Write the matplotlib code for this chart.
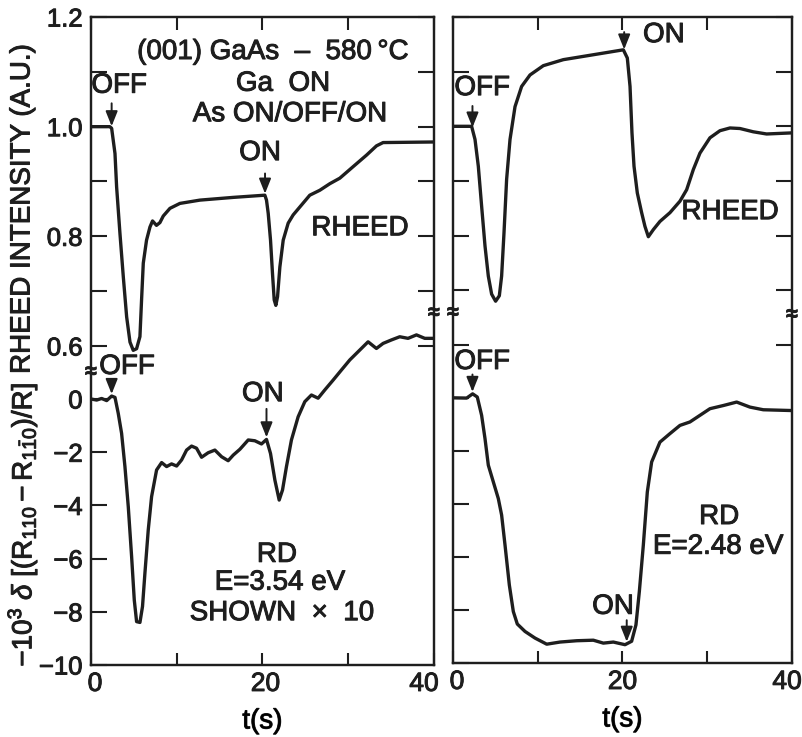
import numpy as np
import matplotlib
matplotlib.use("Agg")
import matplotlib.pyplot as plt
import matplotlib.patheffects as pe
from matplotlib.text import Text
from matplotlib.transforms import ScaledTranslation

# --- Left panel: RHEED intensity (A.U.) and RD at E=3.54 eV (shown x10) ---
t_rheed_a = [0, 2.2, 2.41, 2.80, 2.99, 3.38, 3.77, 4.16, 4.55, 4.93, 5.32, 5.71, 5.90, 6.10,
             6.48, 6.88, 7.18, 7.64, 8.04, 8.43, 9.21, 10.37, 12.7, 16.6, 20.28, 20.47, 20.67,
             20.94, 21.17, 21.37, 21.56, 21.76, 22.03, 22.42, 23.0, 23.58, 24.55, 25.52, 26.69,
             27.86, 29.02, 30.57, 32.13, 33.3, 34.07, 39.7]
rheed_a = [1.0, 1.0, 0.997, 0.951, 0.890, 0.805, 0.726, 0.653, 0.607, 0.592, 0.595, 0.617,
           0.684, 0.751, 0.793, 0.817, 0.828, 0.820, 0.825, 0.837, 0.851, 0.860, 0.866, 0.871,
           0.875, 0.866, 0.842, 0.793, 0.732, 0.684, 0.674, 0.690, 0.744, 0.793, 0.824, 0.839,
           0.857, 0.875, 0.884, 0.896, 0.906, 0.927, 0.948, 0.965, 0.971, 0.972]

t_rd_a = [0, 0.66, 1.24, 1.83, 2.41, 2.80, 3.18, 3.57, 3.96, 4.35, 4.74, 5.05, 5.32, 5.71,
          6.01, 6.29, 6.68, 7.07, 7.65, 8.24, 8.82, 9.4, 9.99, 10.57, 11.15, 11.73, 12.31,
          12.90, 13.67, 14.45, 15.23, 16.0, 16.59, 17.37, 18.34, 19.11, 19.89, 20.47, 20.94,
          21.45, 21.95, 22.34, 22.8, 23.38, 24.16, 24.94, 25.71, 26.49, 27.27, 28.24, 29.21,
          30.19, 31.35, 32.32, 33.29, 34.07, 35.04, 36.01, 36.98, 37.96, 38.93, 39.7]
rd_a = [0, -0.04, 0.02, -0.06, 0.11, 0.06, -0.54, -1.29, -2.54, -4.05, -5.93, -7.56, -8.37,
        -8.4, -7.8, -6.55, -4.92, -3.67, -2.67, -2.39, -2.54, -2.44, -2.52, -2.29, -1.92,
        -1.77, -1.85, -2.19, -2.02, -1.92, -2.17, -2.32, -2.11, -1.89, -1.54, -1.57, -1.69,
        -1.52, -2.05, -3.05, -3.8, -3.42, -2.54, -1.54, -0.67, -0.1, 0.15, 0.03, 0.34, 0.71,
        1.09, 1.47, 1.84, 2.15, 1.90, 2.09, 2.22, 2.34, 2.28, 2.41, 2.28, 2.28]

# --- Right panel: RHEED intensity (A.U.) and RD at E=2.48 eV ---
t_rheed_b = [0, 2.2, 2.6, 2.99, 3.38, 3.78, 4.17, 4.56, 5.03, 5.47, 5.74, 6.02, 6.33, 6.73,
             7.32, 8.1, 9.09, 10.66, 13.02, 16.17, 20.1, 20.57, 20.89, 21.12, 21.36, 21.75,
             22.26, 22.65, 23.05, 23.64, 24.42, 25.6, 26.78, 27.57, 28.36, 29.14, 30.32, 31.5,
             32.68, 33.86, 35.43, 37.0, 40.0]
rheed_b = [1.0, 1.0, 0.976, 0.927, 0.854, 0.781, 0.726, 0.693, 0.680, 0.690, 0.726, 0.805,
           0.903, 0.976, 1.036, 1.073, 1.094, 1.111, 1.122, 1.130, 1.140, 1.125, 1.073, 0.988,
           0.927, 0.878, 0.842, 0.817, 0.798, 0.811, 0.826, 0.842, 0.863, 0.884, 0.921, 0.951,
           0.979, 0.992, 0.997, 0.996, 0.990, 0.986, 0.988]

t_rd_b = [0, 1.61, 2.32, 2.87, 3.38, 3.78, 4.17, 4.76, 5.35, 5.74, 6.14, 6.65, 7.12, 7.59,
          8.5, 9.68, 11.06, 12.63, 14.6, 16.56, 17.74, 18.92, 20.3, 21.08, 21.59, 21.99,
          22.46, 22.93, 23.44, 24.42, 25.6, 26.78, 27.96, 29.14, 30.32, 31.9, 33.47, 35.04,
          36.61, 40.0]
rd_b = [0, -0.01, 0.15, 0.03, -0.66, -1.54, -2.54, -3.17, -3.80, -4.42, -5.55, -7.06, -8.06,
        -8.53, -8.81, -9.06, -9.29, -9.21, -9.16, -9.14, -9.25, -9.21, -9.31, -9.18, -8.56,
        -7.30, -5.55, -3.55, -2.42, -1.67, -1.35, -1.04, -0.91, -0.66, -0.41, -0.29, -0.16,
        -0.35, -0.45, -0.48]

# shutter switching times (s)
as_off_a, as_on_a = 2.41, 20.3
as_off_b, as_on_b = 2.3, 20.2

rd_ticks = [0, -2, -4, -6, -8, -10]
rheed_ticks = [0.6, 0.7, 0.8, 0.9, 1.0, 1.1, 1.2]
rheed_ticklabels = ['0.6', '', '0.8', '', '1.0', '', '1.2']
t_ticks = [0, 10, 20, 30, 40]
t_ticklabels = ['0', '', '20', '', '40']

ink = "#1e1e1e"
plt.rcParams.update({
    "font.family": ["Liberation Sans", "DejaVu Sans"],
    "font.size": 20,
    "mathtext.fontset": "custom",
    "mathtext.rm": "Liberation Sans",
    "mathtext.it": "Liberation Sans:italic",
    "mathtext.bf": "Liberation Sans:bold",
    "text.color": ink,
    "axes.edgecolor": ink,
    "axes.linewidth": 1.6,
    "xtick.color": ink,
    "ytick.color": ink,
    "xtick.direction": "in",
    "ytick.direction": "in",
    "xtick.labelsize": 19,
    "ytick.labelsize": 18.5,
})

fig = plt.figure(figsize=(8.03, 7.37), dpi=100)
ax_a = fig.add_axes([0.1133, 0.0977, 0.4271, 0.8792])
ax_b = fig.add_axes([0.5641, 0.1004, 0.4222, 0.8765])


def setup_panel(ax, labels, nudges):
    ax.set_xlim(0, 40)
    ax.set_ylim(-10, 14.36)
    ax.set_xticks(t_ticks)
    ax.set_xticklabels(t_ticklabels)
    ax.xaxis.set_ticks_position('both')
    ax.tick_params(axis='x', length=9, width=1.5, pad=5)
    # the end labels sit a little inside the frame
    for lab, dx in zip(ax.get_xticklabels(), nudges):
        lab.set_transform(lab.get_transform() + ScaledTranslation(dx / 100, 0, fig.dpi_scale_trans))
    ax.set_yticks(rd_ticks)
    ax.yaxis.set_ticks_position('both')
    ax.tick_params(axis='y', length=11.5, width=1.5, pad=6, labelleft=labels)
    ax.set_xlabel('t(s)', fontsize=20, labelpad=9)

    # RHEED scale shares the same frame
    tw = ax.twinx()
    tw.set_ylim(0.018, 1.2)
    tw.set_yticks(rheed_ticks)
    tw.set_yticklabels(rheed_ticklabels)
    tw.yaxis.set_ticks_position('both')
    tw.tick_params(axis='y', length=11.5, width=1.5, pad=6,
                   labelleft=labels, labelright=False)
    for s in tw.spines.values():
        s.set_linewidth(1.6)
    return tw


tw_a = setup_panel(ax_a, True, [4, 0, 3, 0, -10])
tw_b = setup_panel(ax_b, False, [4, 0, 0, 0, -5])

lw = 2.4
tw_a.plot(t_rheed_a, rheed_a, color=ink, lw=lw, solid_joinstyle='round')
ax_a.plot(t_rd_a, rd_a, color=ink, lw=lw, solid_joinstyle='round')
tw_b.plot(t_rheed_b, rheed_b, color=ink, lw=lw, solid_joinstyle='round')
ax_b.plot(t_rd_b, rd_b, color=ink, lw=lw, solid_joinstyle='round')


def mark(ax, t_ev, ts, vs, length):
    v = np.interp(t_ev, ts, vs)
    ax.annotate('', xy=(t_ev, v), xytext=(0, length), textcoords='offset points',
                arrowprops=dict(arrowstyle='-|>,head_length=0.45,head_width=0.18',
                                color=ink, lw=1.4, shrinkA=0, shrinkB=1.5))


mark(tw_a, as_off_a, t_rheed_a, rheed_a, 18)
mark(tw_a, as_on_a, t_rheed_a, rheed_a, 16)
mark(ax_a, as_off_a, t_rd_a, rd_a, 11)
mark(ax_a, 20.47, t_rd_a, rd_a, 22)
mark(tw_b, as_off_b, t_rheed_b, rheed_b, 17)
mark(tw_b, as_on_b, t_rheed_b, rheed_b, 14)
mark(ax_b, as_off_b, t_rd_b, rd_b, 14)
mark(ax_b, 20.5, t_rd_b, rd_b, 17)

# text annotations in axes fraction
txt = dict(ha='center', va='center', fontsize=20)
ax_a.text(0.531, 0.946, '(001) GaAs  \u2013  580\u2009\u00b0C', transform=ax_a.transAxes, **txt)
ax_a.text(0.560, 0.897, 'Ga  ON', transform=ax_a.transAxes, **txt)
ax_a.text(0.580, 0.850, 'As ON/OFF/ON', transform=ax_a.transAxes, **txt)
ax_a.text(0.082, 0.894, 'OFF', transform=ax_a.transAxes, **txt)
ax_a.text(0.493, 0.790, 'ON', transform=ax_a.transAxes, **txt)
ax_a.text(0.784, 0.674, 'RHEED', transform=ax_a.transAxes, **txt)
ax_a.text(0.105, 0.460, 'OFF', transform=ax_a.transAxes, **txt)
ax_a.text(0.501, 0.418, 'ON', transform=ax_a.transAxes, **txt)
ax_a.text(0.542, 0.170, 'RD', transform=ax_a.transAxes, **txt)
ax_a.text(0.551, 0.127, 'E=3.54 eV', transform=ax_a.transAxes, **txt)
ax_a.text(0.557, 0.080, 'SHOWN  \u00d7  10', transform=ax_a.transAxes, **txt)

ax_b.text(0.622, 0.972, 'ON', transform=ax_b.transAxes, **txt)
ax_b.text(0.086, 0.890, 'OFF', transform=ax_b.transAxes, **txt)
ax_b.text(0.817, 0.698, 'RHEED', transform=ax_b.transAxes, **txt)
ax_b.text(0.086, 0.466, 'OFF', transform=ax_b.transAxes, **txt)
ax_b.text(0.472, 0.087, 'ON', transform=ax_b.transAxes, **txt)
ax_b.text(0.785, 0.226, 'RD', transform=ax_b.transAxes, **txt)
ax_b.text(0.782, 0.180, 'E=2.48 eV', transform=ax_b.transAxes, **txt)

# axis-break marks on the frames
brk = dict(ha='center', va='center', fontsize=15, fontweight='bold')
ax_a.text(0.0, 0.452, '\u2248', transform=ax_a.transAxes, **brk)
ax_a.text(1.0, 0.543, '\u2248', transform=ax_a.transAxes, **brk)
ax_b.text(0.0, 0.542, '\u2248', transform=ax_b.transAxes, **brk)
ax_b.text(1.0, 0.539, '\u2248', transform=ax_b.transAxes, **brk)

# stacked y-axis titles
fig.text(0.028, 0.716, 'RHEED INTENSITY (A.U.)', rotation=90, ha='center', va='center', fontsize=20)
fig.text(0.028, 0.288, r'$-10^3\ \delta\ [(\mathrm{R}_{110}-\mathrm{R}_{1\bar{1}0})/\mathrm{R}]$',
         rotation=90, ha='center', va='center', fontsize=20)

# slightly heavier lettering
for t in fig.findobj(Text):
    t.set_path_effects([pe.withStroke(linewidth=0.7, foreground=ink)])

plt.savefig("out.png", dpi=100, facecolor="white")
